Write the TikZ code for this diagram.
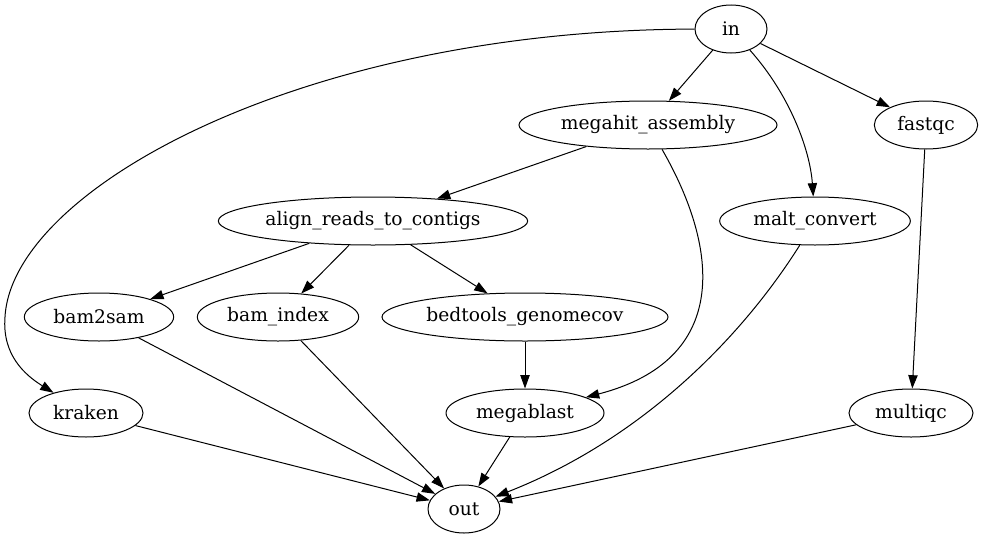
\documentclass[tikz,border=0pt]{standalone}
\usepackage{fontspec}
\setmainfont{DejaVu Serif}
\usetikzlibrary{shapes.geometric,arrows.meta}
\tikzstyle{task} = [draw=black, line width=0.75pt, ellipse, inner sep=0pt, minimum height=36pt, font={\fontsize{14}{16}\selectfont}]
\tikzstyle{flow} = [-{Triangle[length=10pt,width=7pt]}, line width=0.75pt]

\begin{document}
\begin{tikzpicture}[x=0.75pt,y=-0.75pt]
    \useasboundingbox (0,0) rectangle (984,539);
    \node[task,minimum width=54pt](in) at (731,29){in};
    \node[task,minimum width=193.5pt](megahit) at (648,125){megahit\_assembly};
    \node[task,minimum width=77.5pt](fastqc) at (926,125){fastqc};
    \node[task,minimum width=232pt](align) at (373,221){align\_reads\_to\_contigs};
    \node[task,minimum width=143pt](malt) at (815,221){malt\_convert};
    \node[task,minimum width=112pt](bam2sam) at (99,317){bam2sam};
    \node[task,minimum width=121pt](bamindex) at (278,317){bam\_index};
    \node[task,minimum width=214.5pt](bedtools) at (525,317){bedtools\_genomecov};
    \node[task,minimum width=85.5pt](kraken) at (86,413){kraken};
    \node[task,minimum width=118.5pt](megablast) at (525,413){megablast};
    \node[task,minimum width=93pt](multiqc) at (911,413){multiqc};
    \node[task,minimum width=54pt](out) at (464,509){out};
    \draw[flow](in) .. controls (300,30) and (12,190) .. (5,317) .. controls (2,355) and (25,375) .. (kraken);
    \draw[flow](in)--(megahit);
    \draw[flow](in) .. controls (790,95) and (810,150) .. (malt);
    \draw[flow](in)--(fastqc);
    \draw[flow](megahit)--(align);
    \draw[flow](megahit) .. controls (720,250) and (730,360) .. (megablast);
    \draw[flow](fastqc)--(multiqc);
    \draw[flow](align)--(bam2sam);
    \draw[flow](align)--(bamindex);
    \draw[flow](align)--(bedtools);
    \draw[flow](bedtools)--(megablast);
    \draw[flow](malt) .. controls (740,340) and (640,440) .. (out);
    \draw[flow](bam2sam)--(out);
    \draw[flow](bamindex)--(out);
    \draw[flow](kraken)--(out);
    \draw[flow](megablast)--(out);
    \draw[flow](multiqc)--(out);
  \end{tikzpicture}
\end{document}
